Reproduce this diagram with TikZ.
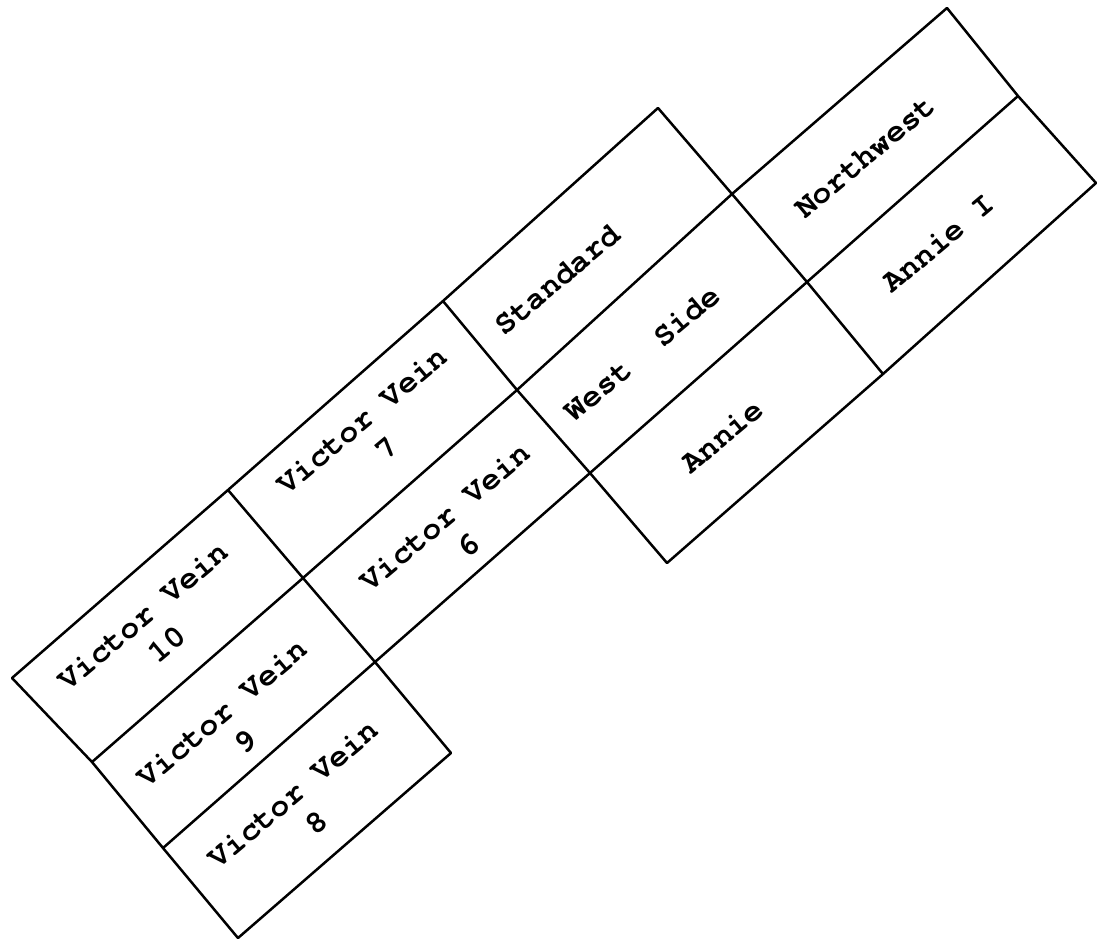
\documentclass[tikz,border=0pt]{standalone}
\usepackage{fontspec}
\newfontfamily\tw{TeX Gyre Cursor}
\begin{document}
\begin{tikzpicture}[x=0.5pt,y=-0.5pt,
  claim/.style={line width=1.25pt, line cap=round, line join=miter},
  lbl/.style={font=\tw\bfseries\fontsize{16}{18.5}\selectfont, rotate=40, align=center, inner sep=0pt}]
\useasboundingbox (0,0) rectangle (1099,943);
% lattice corners
\coordinate (p00) at (12,678);
\coordinate (p10) at (228,490);
\coordinate (p20) at (443,301);
\coordinate (p30) at (658,108);
\coordinate (p01) at (92,762);
\coordinate (p11) at (303,578);
\coordinate (p21) at (517,390);
\coordinate (p31) at (732,194);
\coordinate (p41) at (947,8);
\coordinate (p02) at (163,848);
\coordinate (p12) at (375,662);
\coordinate (p22) at (590,473);
\coordinate (p32) at (807,282);
\coordinate (p42) at (1018,96);
\coordinate (p03) at (238,938);
\coordinate (p13) at (451,753);
\coordinate (p23) at (667,563);
\coordinate (p33) at (883,374);
\coordinate (p43) at (1096,183);
% long lines
\draw[claim] (p00) -- (p10) -- (p20) -- (p30);
\draw[claim] (p01) -- (p11) -- (p21) -- (p31) -- (p41);
\draw[claim] (p02) -- (p12) -- (p22) -- (p32) -- (p42);
\draw[claim] (p03) -- (p13);
\draw[claim] (p23) -- (p33) -- (p43);
% short lines
\draw[claim] (p00) -- (p01) -- (p02) -- (p03);
\draw[claim] (p10) -- (p11) -- (p12) -- (p13);
\draw[claim] (p20) -- (p21) -- (p22) -- (p23);
\draw[claim] (p30) -- (p31) -- (p32) -- (p33);
\draw[claim] (p41) -- (p42) -- (p43);
% labels
\node[lbl] (v10) at (155,630) {Victor Vein\\10};
\node[lbl] (v9) at (234,727) {Victor Vein\\9};
\node[lbl] (v8) at (305,808) {Victor Vein\\8};
\node[lbl] (v7) at (374,434) {Victor Vein\\7};
\node[lbl] (v6) at (457,531) {Victor Vein\\6};
\node[lbl] (std) at (557,280) {Standard};
\node[lbl] (ws) at (642,353) {West~~Side};
\node[lbl] (an) at (722,436) {Annie};
\node[lbl] (nw) at (865,157) {Northwest};
\node[lbl] (an1) at (938,243) {Annie I};
\end{tikzpicture}
\end{document}
